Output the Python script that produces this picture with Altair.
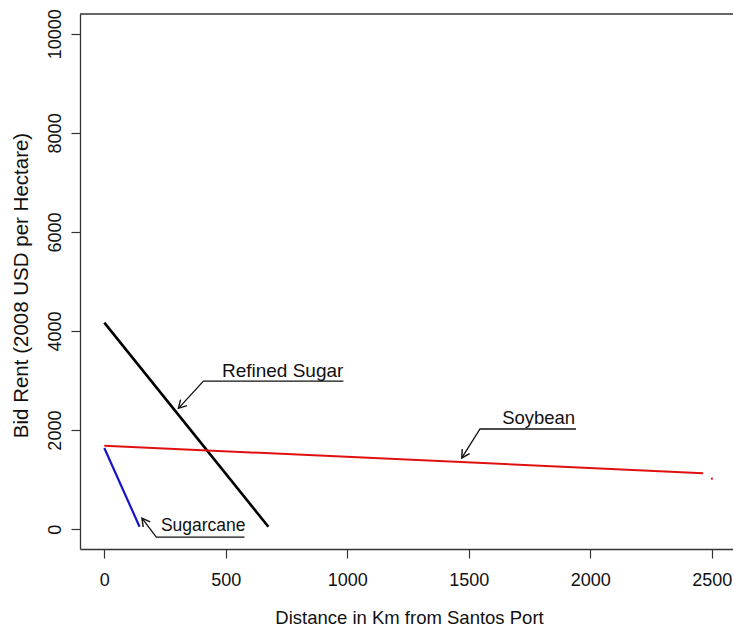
import altair as alt
import pandas as pd

# Bid-rent curves: distance from port (km) vs bid rent (2008 USD per hectare)
sugarcane_km = [0, 145]
sugarcane_rent = [1640, 50]
refined_km = [0, 675]
refined_rent = [4170, 50]
soy_km = [0, 2464]
soy_rent = [1686, 1129]
soy_end_km = [2500]
soy_end_rent = [1020]

x_ticks = [0, 500, 1000, 1500, 2000, 2500]
y_ticks = [0, 2000, 4000, 6000, 8000, 10000]

# Curve labels with leader arrows (tip -> elbow -> end of underline)
labels = ["Refined Sugar", "Sugarcane", "Soybean"]
label_size = [19, 17.5, 18.5]
label_km = [484, 233, 1637]
label_rent = [3077, -34, 2115]
tip_km = [305, 155, 1471]
tip_rent = [2440, 222, 1438]
elbow_km = [408, 214, 1546]
elbow_rent = [2990, -161, 2022]
under_end_km = [984, 577, 1941]
arrow_angle = [223, 323, 212]

W, H = 653, 535
FONT = "Liberation Sans"

x_scale = alt.Scale(domain=[-100, 2587], nice=False, zero=False)
y_scale = alt.Scale(domain=[-400, 10400], nice=False, zero=False)

x_axis = alt.Axis(values=x_ticks, format="d", tickSize=9, labelPadding=13,
                  labelBaseline="top", title="Distance in Km from Santos Port",
                  titleFontSize=18.5,
                  titleX=329, titleY=74, titleBaseline="alphabetic", titleAlign="center")
y_axis = alt.Axis(values=y_ticks, format="d", tickSize=9, labelAngle=270,
                  labelAlign="center", labelBaseline="alphabetic", labelPadding=11,
                  title="Bid Rent (2008 USD per Hectare)", titleAngle=270,
                  titleFontSize=20.5,
                  titleX=-53, titleY=271, titleAlign="center", titleBaseline="alphabetic")


def xy():
    return dict(
        x=alt.X("km:Q", scale=x_scale, axis=x_axis),
        y=alt.Y("rent:Q", scale=y_scale, axis=y_axis),
    )


def curve(km, rent, color, width):
    df = pd.DataFrame({"km": km, "rent": rent})
    return alt.Chart(df).mark_line(color=color, strokeWidth=width).encode(**xy())


refined = curve(refined_km, refined_rent, "#000000", 2.6)
sugarcane = curve(sugarcane_km, sugarcane_rent, "#1515c8", 2.2)
soybean = curve(soy_km, soy_rent, "#e01010", 2.0)

soy_end = alt.Chart(pd.DataFrame({"km": soy_end_km, "rent": soy_end_rent})).mark_square(
    color="#e01010", size=4, opacity=1
).encode(**xy())

# Leader lines
leader_rows = []
for i, name in enumerate(labels):
    leader_rows.append({"label": name, "step": 0, "km": tip_km[i], "rent": tip_rent[i]})
    leader_rows.append({"label": name, "step": 1, "km": elbow_km[i], "rent": elbow_rent[i]})
    leader_rows.append({"label": name, "step": 2, "km": under_end_km[i], "rent": elbow_rent[i]})
leaders = alt.Chart(pd.DataFrame(leader_rows)).mark_line(color="#111111", strokeWidth=1.3).encode(
    detail="label:N",
    order="step:Q",
    **xy(),
)

# Open arrowheads at the leader tips
heads_df = pd.DataFrame({"km": tip_km, "rent": tip_rent, "angle": arrow_angle})
heads = alt.Chart(heads_df).mark_point(
    shape="M -0.5 0.9 L 0 0 L 0.5 0.9", filled=False, size=300,
    stroke="#111111", strokeWidth=1.4, opacity=1
).encode(
    angle=alt.Angle("angle:Q", scale=None),
    **xy(),
)

texts_df = pd.DataFrame({"label": labels, "km": label_km, "rent": label_rent,
                         "fs": label_size})
texts = alt.Chart(texts_df).mark_text(
    align="left", baseline="alphabetic", font=FONT, color="#111111"
).encode(
    text="label:N",
    size=alt.Size("fs:Q", scale=None, legend=None),
    **xy(),
)

# Top edge of the plot frame
top_edge = alt.Chart(pd.DataFrame({"k": [0]})).mark_rule(color="#333333", strokeWidth=1.3).encode(
    x=alt.value(0), x2=alt.value(W), y=alt.value(0)
)

chart = alt.layer(
    refined, sugarcane, soybean, soy_end, leaders, heads, texts, top_edge
).properties(
    width=W, height=H,
    autosize=alt.AutoSizeParams(type="none"),
    padding={"left": 80, "top": 14, "right": 0, "bottom": 77},
).configure_view(
    stroke=None
).configure_axis(
    grid=False,
    domainColor="#333333", domainWidth=1.3,
    tickColor="#333333", tickWidth=1.2,
    labelFont=FONT, labelFontSize=18, labelColor="#111111",
    titleFont=FONT, titleFontSize=18, titleFontWeight="normal", titleColor="#111111",
)

chart.save("out.html", embed_options={"renderer": "svg", "actions": False})
